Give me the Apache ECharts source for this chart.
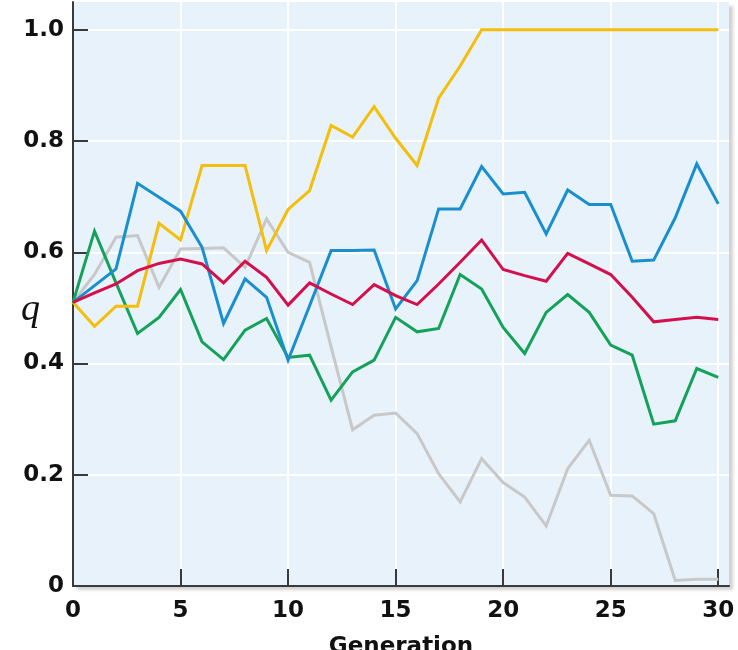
<!DOCTYPE html>
<html>
<head>
<meta charset="utf-8">
<script src="https://cdn.jsdelivr.net/npm/echarts@6/dist/echarts.min.js"></script>
<style>
  html, body { margin: 0; padding: 0; background: #fff; }
  #main { width: 738px; height: 650px; }
</style>
</head>
<body>
<div id="main"></div>
<script>
// generations on the x axis
var generations = [0, 1, 2, 3, 4, 5, 6, 7, 8, 9, 10, 11, 12, 13, 14, 15, 16, 17, 18, 19, 20, 21, 22, 23, 24, 25, 26, 27, 28, 29, 30];

// allele frequency q of each population
var qRed = [0.51, 0.527, 0.543, 0.567, 0.580, 0.588, 0.579, 0.545, 0.584, 0.555, 0.505, 0.545, 0.525, 0.506, 0.542, 0.522, 0.506, 0.543, 0.582, 0.622, 0.569, 0.558, 0.548, 0.598, 0.579, 0.560, 0.519, 0.475, 0.479, 0.483, 0.479];
var qBlue = [0.51, 0.540, 0.570, 0.724, 0.699, 0.674, 0.609, 0.472, 0.552, 0.519, 0.406, 0.504, 0.603, 0.603, 0.604, 0.498, 0.549, 0.678, 0.678, 0.754, 0.705, 0.708, 0.633, 0.712, 0.686, 0.686, 0.584, 0.586, 0.662, 0.759, 0.687];
var qGreen = [0.51, 0.638, 0.545, 0.454, 0.483, 0.533, 0.439, 0.407, 0.460, 0.481, 0.411, 0.415, 0.334, 0.385, 0.406, 0.483, 0.457, 0.463, 0.560, 0.534, 0.465, 0.418, 0.492, 0.524, 0.492, 0.433, 0.415, 0.291, 0.297, 0.391, 0.375];
var qYellow = [0.51, 0.467, 0.503, 0.503, 0.652, 0.622, 0.756, 0.756, 0.756, 0.603, 0.677, 0.711, 0.828, 0.807, 0.862, 0.805, 0.756, 0.877, 0.935, 1, 1, 1, 1, 1, 1, 1, 1, 1, 1, 1, 1];
var qGray = [0.51, 0.56, 0.627, 0.630, 0.537, 0.606, 0.607, 0.608, 0.573, 0.660, 0.600, 0.582, 0.43, 0.281, 0.307, 0.311, 0.274, 0.202, 0.151, 0.229, 0.186, 0.160, 0.108, 0.211, 0.262, 0.163, 0.162, 0.130, 0.010, 0.012, 0.012];

// tick marks
var xTicks = [0, 5, 10, 15, 20, 25, 30];
var yTicks = [0, 0.2, 0.4, 0.6, 0.8, 1.0];
var yTickLabels = ['0', '0.2', '0.4', '0.6', '0.8', '1.0'];

function pairs(ys) {
    return generations.map(function (g, i) { return [g, ys[i]]; });
}

function line(name, ys, color) {
    return {
        name: name,
        type: 'line',
        data: pairs(ys),
        showSymbol: false,
        symbol: 'none',
        lineStyle: { color: color, width: 3, join: 'miter' },
        itemStyle: { color: color },
        silent: true
    };
}

var labelFont = {
    fontFamily: '"DejaVu Sans", "Liberation Sans", Arial, sans-serif',
    fontWeight: 'bold',
    fontSize: 23,
    color: '#111'
};

var myChart = echarts.init(document.getElementById('main'));
var option = {
    animation: false,
    grid: {
        left: 73,
        right: 9,
        top: 2,
        bottom: 64,
        outerBoundsMode: 'none',
        show: true,
        backgroundColor: '#e8f2fb',
        borderWidth: 0,
        shadowColor: 'rgba(0,0,0,0.18)',
        shadowBlur: 3,
        shadowOffsetX: 4,
        shadowOffsetY: 4
    },
    // the italic q at the left
    graphic: [{
        type: 'text',
        left: 21,
        top: 291,
        style: {
            text: 'q',
            font: 'italic 38px "Liberation Serif", "DejaVu Serif", serif',
            fill: '#111'
        }
    }],
    xAxis: {
        type: 'value',
        min: 0,
        max: 30.5,
        interval: 5,
        name: 'Generation',
        nameLocation: 'middle',
        nameGap: 50,
        nameTextStyle: labelFont,
        axisLine: { lineStyle: { color: '#3a3a3a', width: 2 } },
        axisTick: {
            inside: true, length: 17,
            customValues: xTicks,
            lineStyle: { color: '#3a3a3a', width: 2 }
        },
        axisLabel: Object.assign({ margin: 14, customValues: xTicks }, labelFont),
        splitLine: { show: true, lineStyle: { color: '#ffffff', width: 2 } }
    },
    yAxis: {
        type: 'value',
        min: 0,
        max: 1.05,
        interval: 0.2,
        axisLine: { show: true, lineStyle: { color: '#3a3a3a', width: 2 } },
        axisTick: {
            show: true, inside: true, length: 15,
            customValues: yTicks,
            lineStyle: { color: '#3a3a3a', width: 2 }
        },
        axisLabel: Object.assign({
            margin: 9,
            customValues: yTicks,
            formatter: function (v) {
                var i = yTicks.findIndex(function (t) { return Math.abs(t - v) < 1e-6; });
                return i >= 0 ? yTickLabels[i] : '';
            }
        }, labelFont),
        splitLine: { show: true, lineStyle: { color: '#ffffff', width: 2 } }
    },
    series: [
        line('gray', qGray, '#c8c8c8'),
        line('green', qGreen, '#14a25a'),
        line('yellow', qYellow, '#f3be0c'),
        line('blue', qBlue, '#1a8fcf'),
        line('red', qRed, '#d4104c')
    ]
};
myChart.setOption(option);
</script>
</body>
</html>
